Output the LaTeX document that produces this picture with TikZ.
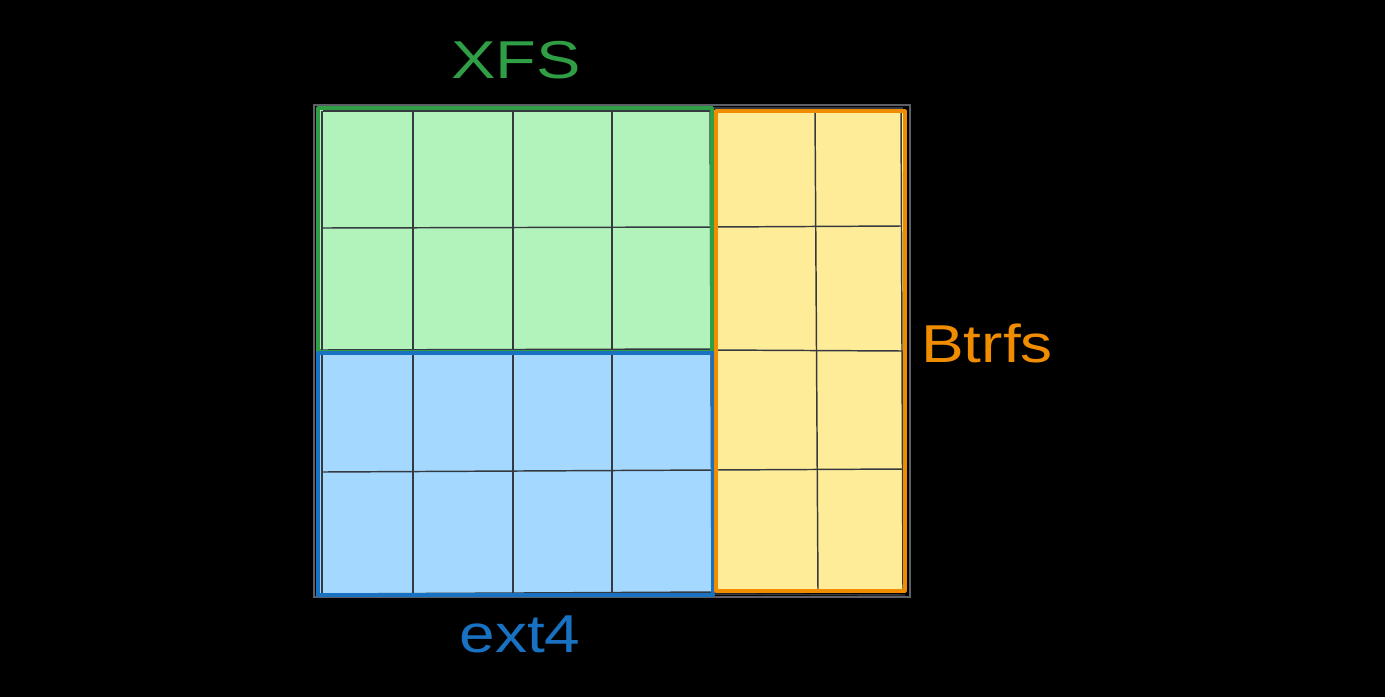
\documentclass[tikz,border=0pt]{standalone}
\usepackage{fontspec}
\usepackage{graphicx}
\setmainfont{Liberation Sans}
\definecolor{greenF}{HTML}{B2F2BB}
\definecolor{greenS}{HTML}{2F9E44}
\definecolor{blueF}{HTML}{A5D8FF}
\definecolor{blueS}{HTML}{1971C2}
\definecolor{yellowF}{HTML}{FFEC99}
\definecolor{orangeS}{HTML}{F08C00}
\definecolor{gridC}{HTML}{343A40}
\definecolor{frameC}{HTML}{5C5F66}
\tikzset{
  gridline/.style={draw=gridC, line width=1.1pt},
  region/.style={line width=2.4pt, line join=round},
  label/.style={font=\fontsize{40}{44}\selectfont, inner sep=0pt}
}
\begin{document}
\begin{tikzpicture}[x=0.75pt,y=-0.75pt]
\fill[black] (0,0) rectangle (1385,697);
\useasboundingbox (0,0) rectangle (1385,697);
% outer frame
\draw[draw=frameC, line width=2.2pt] (314,105) rectangle (910,597);
% region fills
\fill[greenF] (318,108) rectangle (712,352);
\fill[blueF] (318,352) rectangle (714,595);
\fill[yellowF] (714,110) rectangle (905,591);
% grid lines (left part)
\foreach \x in {413,513,612} \draw[gridline] (\x,110) -- (\x,594);
\draw[gridline] (323,111) -- (712,111);
\draw[gridline] (322,111) -- (322,594);
\draw[gridline] (323,228) -- (714,227);
\draw[gridline] (318,350) -- (714,349);
\draw[gridline] (323,472) -- (714,470);
\draw[gridline] (323,594) -- (714,592);
\draw[gridline] (710,110) -- (712,594);
% grid lines (right part)
\draw[gridline] (714,108) -- (903,108);
\draw[gridline] (815,110) -- (818,591);
\draw[gridline] (901,110) -- (903,591);
\draw[gridline] (714,227) -- (901,226);
\draw[gridline] (714,350) -- (903,351);
\draw[gridline] (714,470) -- (903,469);
\draw[gridline] (714,594) -- (905,595);
% region borders
\draw[region, greenS] (318,108) rectangle (712,352);
\draw[region, blueS] (318,353) rectangle (713,595);
\draw[region, orangeS] (716,111) rectangle (905,591);
% labels
\node[label, text=greenS] (xfs) at (516,60) {\scalebox{1.25}[1]{XFS}};
\node[label, text=orangeS] (btrfs) at (987,343) {\scalebox{1.2}[1]{Btrfs}};
\node[label, text=blueS] (ext) at (520,634) {\scalebox{1.2}[1]{ext4}};
\end{tikzpicture}
\end{document}
